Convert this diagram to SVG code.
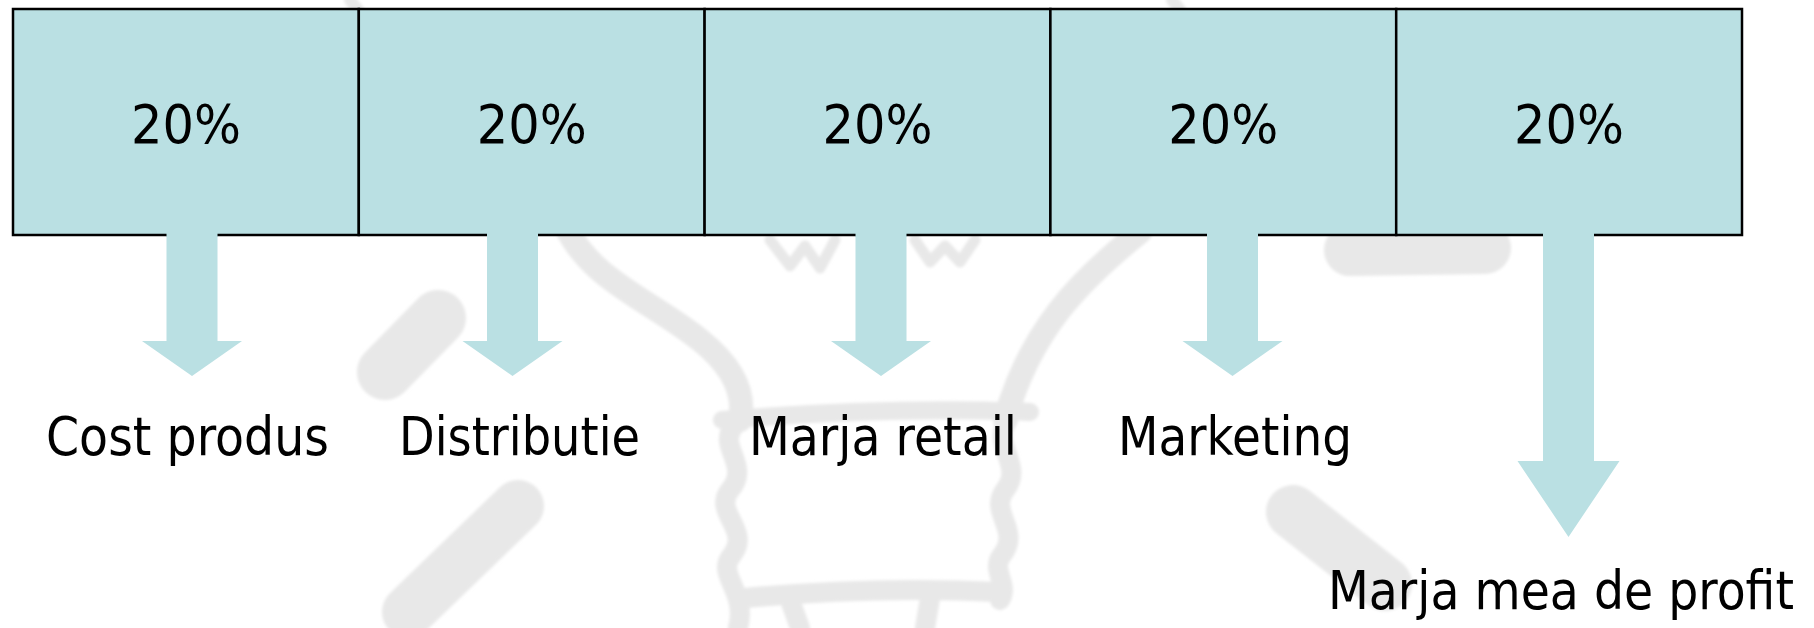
<svg xmlns="http://www.w3.org/2000/svg" width="1814" height="628" viewBox="0 0 1814 628">
  <style>
    .sketch { fill: none; stroke: #e8e8e8; stroke-linecap: round; stroke-linejoin: round; }
    .cell { fill: #bae0e3; stroke: #000; stroke-width: 2.5; }
    .pct { font-family: "DejaVu Sans", "Liberation Sans", sans-serif; font-size: 54px; fill: #000; text-anchor: middle; }
    .lbl { font-family: "DejaVu Sans", "Liberation Sans", sans-serif; font-size: 54px; fill: #000; }
    .arrow { fill: #bae0e3; }
  </style>
  <defs>
    <!-- down arrow: shaft 51 wide, head 101 wide, origin at shaft centre top -->
    <path id="shortArrow" d="M -25.5 0 H 25.5 V 107 H 50 L 0 142 L -50 107 H -25.5 Z"/>
    <path id="longArrow" d="M -25.5 0 H 25.5 V 227 H 51 L 0 303 L -51 227 H -25.5 Z"/>
    <filter id="soft" x="-5%" y="-5%" width="110%" height="110%">
      <feGaussianBlur stdDeviation="1.5"/>
    </filter>
  </defs>

  <rect width="1814" height="628" fill="#ffffff"/>

  <!-- light bulb watermark sketch -->
  <g id="watermark" class="sketch" filter="url(#soft)">
    <path d="M 350 0 L 358 10" stroke-width="12"/>
    <path d="M 1172 0 L 1180 10" stroke-width="12"/>
    <!-- bulb glass -->
    <path d="M 565 225 C 590 280, 650 300, 700 340 C 735 368, 745 395, 740 420" stroke-width="24"/>
    <path d="M 1140 232 C 1080 280, 1030 330, 1005 420" stroke-width="24"/>
    <!-- filament -->
    <path d="M 770 240 L 790 266 L 805 246 L 820 268 L 835 240" stroke-width="11"/>
    <path d="M 915 240 L 930 262 L 945 246 L 960 262 L 975 240" stroke-width="11"/>
    <!-- collar and screw base -->
    <path d="M 722 420 C 820 412, 930 408, 1030 412" stroke-width="18"/>
    <path d="M 735 425 C 715 445, 752 465, 730 490 C 712 512, 752 530, 732 555 C 715 575, 748 590, 738 628" stroke-width="20"/>
    <path d="M 1008 420 C 990 445, 1025 465, 1005 490 C 988 512, 1022 530, 1002 555 C 990 570, 1010 585, 1000 600" stroke-width="20"/>
    <path d="M 745 598 C 830 590, 920 588, 1000 592" stroke-width="20"/>
    <path d="M 790 600 L 800 628 M 930 598 L 925 628" stroke-width="20"/>
    <!-- rays -->
    <path d="M 385 372 L 438 318" stroke-width="56"/>
    <path d="M 518 506 L 408 612" stroke-width="52"/>
    <path d="M 1350 250 L 1485 248" stroke-width="52"/>
    <path d="M 1293 512 L 1385 584" stroke-width="54"/>
  </g>

  <!-- connectors: arrows from each share to its label -->
  <g id="connectors" class="arrow">
    <use href="#shortArrow" x="192" y="234"/>
    <use href="#shortArrow" x="512.5" y="234"/>
    <use href="#shortArrow" x="881" y="234"/>
    <use href="#shortArrow" x="1232.5" y="234"/>
    <use href="#longArrow" x="1568.5" y="234"/>
  </g>

  <!-- cost breakdown bar -->
  <g id="cell-cost">
    <rect class="cell" x="13" y="9" width="345.8" height="226"/>
    <text class="pct" x="186" y="143" textLength="110" lengthAdjust="spacingAndGlyphs">20%</text>
  </g>
  <g id="cell-distribution">
    <rect class="cell" x="358.8" y="9" width="345.8" height="226"/>
    <text class="pct" x="531.7" y="143" textLength="110" lengthAdjust="spacingAndGlyphs">20%</text>
  </g>
  <g id="cell-retail">
    <rect class="cell" x="704.6" y="9" width="345.8" height="226"/>
    <text class="pct" x="877.5" y="143" textLength="110" lengthAdjust="spacingAndGlyphs">20%</text>
  </g>
  <g id="cell-marketing">
    <rect class="cell" x="1050.4" y="9" width="345.8" height="226"/>
    <text class="pct" x="1223.3" y="143" textLength="110" lengthAdjust="spacingAndGlyphs">20%</text>
  </g>
  <g id="cell-profit">
    <rect class="cell" x="1396.2" y="9" width="345.8" height="226"/>
    <text class="pct" x="1569.1" y="143" textLength="110" lengthAdjust="spacingAndGlyphs">20%</text>
  </g>

  <!-- arrow shafts overlap the bar's bottom edge -->
  <g id="shaft-caps" class="arrow">
    <rect x="166.5" y="233" width="51" height="4"/>
    <rect x="487" y="233" width="51" height="4"/>
    <rect x="855.5" y="233" width="51" height="4"/>
    <rect x="1207" y="233" width="51" height="4"/>
    <rect x="1543" y="233" width="51" height="4"/>
  </g>

  <g id="label-cost"><text class="lbl" x="46" y="455" textLength="283" lengthAdjust="spacingAndGlyphs">Cost produs</text></g>
  <g id="label-distribution"><text class="lbl" x="399" y="455" textLength="241" lengthAdjust="spacingAndGlyphs">Distributie</text></g>
  <g id="label-retail"><text class="lbl" x="749" y="455" textLength="268" lengthAdjust="spacingAndGlyphs">Marja retail</text></g>
  <g id="label-marketing"><text class="lbl" x="1118" y="455" textLength="234" lengthAdjust="spacingAndGlyphs">Marketing</text></g>
  <g id="label-profit"><text class="lbl" x="1794" y="609" text-anchor="end" textLength="466" lengthAdjust="spacingAndGlyphs">Marja mea de profit</text></g>
</svg>
